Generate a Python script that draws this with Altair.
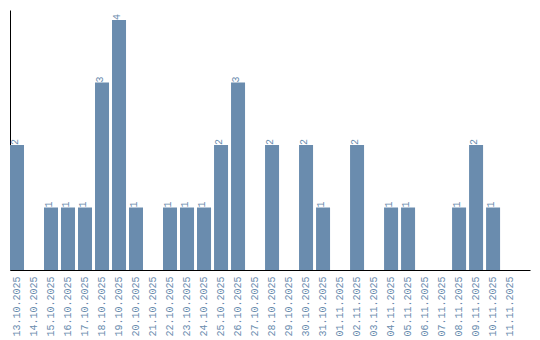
import altair as alt
import pandas as pd

dates = ["13.10.2025", "14.10.2025", "15.10.2025", "16.10.2025", "17.10.2025",
         "18.10.2025", "19.10.2025", "20.10.2025", "21.10.2025", "22.10.2025",
         "23.10.2025", "24.10.2025", "25.10.2025", "26.10.2025", "27.10.2025",
         "28.10.2025", "29.10.2025", "30.10.2025", "31.10.2025", "01.11.2025",
         "02.11.2025", "03.11.2025", "04.11.2025", "05.11.2025", "06.11.2025",
         "07.11.2025", "08.11.2025", "09.11.2025", "10.11.2025", "11.11.2025"]
counts = [2, 0, 1, 1, 1, 3, 4, 1, 0, 1, 1, 1, 2, 3, 0,
          2, 0, 2, 1, 0, 2, 0, 1, 1, 0, 0, 1, 2, 1, 0]

df = pd.DataFrame({"date": dates, "count": counts})
df["label"] = df["count"].apply(lambda v: str(v) if v > 0 else "")

color = "#6a8cae"
font = "Liberation Mono"

x = alt.X("date:N", sort=dates,
          scale=alt.Scale(paddingInner=0.176, paddingOuter=0.38, align=0),
          axis=alt.Axis(title=None, labelAngle=270, labelFont=font, labelFontSize=10,
                        labelColor=color, ticks=False, domainColor="black",
                        labelPadding=6, labelAlign="right", labelBaseline="middle"))
y = alt.Y("count:Q", scale=alt.Scale(domain=[0, 4.16], nice=False),
          axis=alt.Axis(title=None, labels=False, ticks=False, grid=False,
                        domainColor="black"))

bars = alt.Chart(df).mark_bar(color=color).encode(x=x, y=y)
text = alt.Chart(df).mark_text(angle=270, align="left", baseline="middle", dy=-2,
                               font=font, fontSize=10, color=color).encode(
    x=alt.X("date:N", sort=dates), y="count:Q", text="label:N")

chart = (bars + text).properties(width=520, height=260, padding={"left": 10, "top": 10, "right": 10, "bottom": 0}).configure_view(stroke=None)
chart.save("out.html", embed_options={"renderer": "svg", "actions": False})
